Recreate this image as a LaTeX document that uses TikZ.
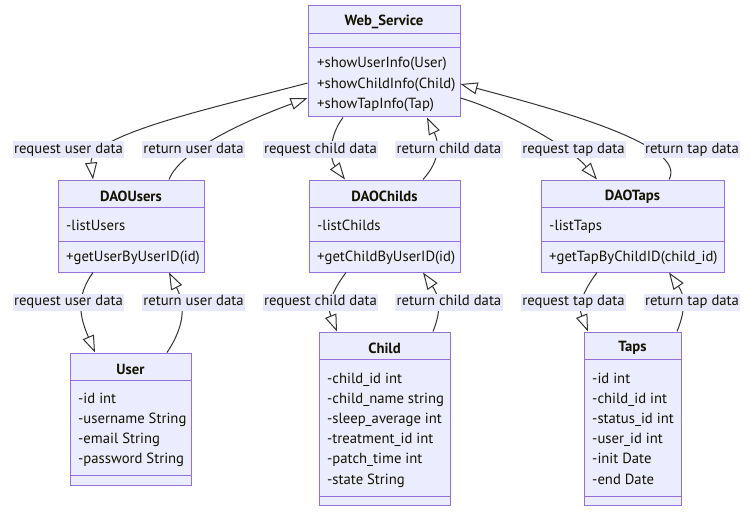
\documentclass[tikz,border=0pt]{standalone}
\usepackage{fontspec}
\setmainfont{PT Sans}
\usetikzlibrary{arrows.meta}

\definecolor{clsfill}{HTML}{ECECFF}
\definecolor{clsline}{HTML}{9370DB}
\definecolor{lblfill}{HTML}{E8E8FC}
\definecolor{edgecol}{HTML}{333333}
\definecolor{txtcol}{HTML}{131300}

\newcommand{\umlfont}{\fontsize{14.7}{17}\selectfont}

\tikzset{
  cls/.style={rectangle, draw=clsline, fill=clsfill, line width=1pt, inner sep=0pt},
  sepline/.style={draw=clsline, line width=1pt},
  ttl/.style={font=\umlfont\bfseries, text=txtcol, inner sep=0pt, yshift=-1.5pt},
  mbr/.style={anchor=west, text=txtcol, inner sep=0pt, text height=10.5pt, text depth=3pt, yshift=-1pt},
  lbl/.style={fill=lblfill, text=txtcol, inner xsep=1.5pt, inner ysep=0pt, text height=12pt, text depth=5pt},
  inh/.style={draw=edgecol, line width=1pt, -{Triangle[open, length=17pt, width=12pt, fill=white]}},
}

\begin{document}
\begin{tikzpicture}[x=1pt, y=-1pt, font=\umlfont]
    \fill[white] (0,0) rectangle (751,513);

    % classes
    \node[cls, minimum width=152, minimum height=111] (ws) at (384,61.5) {};
    \draw[sepline] ([yshift=-28pt]ws.north west) -- ([yshift=-28pt]ws.north east);
    \draw[sepline] ([yshift=-42pt]ws.north west) -- ([yshift=-42pt]ws.north east);
    \node[ttl] (wsT) at (384,20) {Web\_Service};
    \node[mbr] (ws1) at (317,63) {+showUserInfo(User)};
    \node[mbr] (ws2) at (317,83.5) {+showChildInfo(Child)};
    \node[mbr] (ws3) at (317,104) {+showTapInfo(Tap)};

    \node[cls, minimum width=146, minimum height=92] (daou) at (131,226) {};
    \draw[sepline] ([yshift=-28pt]daou.north west) -- ([yshift=-28pt]daou.north east);
    \draw[sepline] ([yshift=-62pt]daou.north west) -- ([yshift=-62pt]daou.north east);
    \node[ttl] (daouT) at (131,195) {DAOUsers};
    \node[mbr] (daou1) at (66,226) {-listUsers};
    \node[mbr] (daou2) at (66,257) {+getUserByUserID(id)};

    \node[cls, minimum width=151, minimum height=92] (daoc) at (384.5,226) {};
    \draw[sepline] ([yshift=-28pt]daoc.north west) -- ([yshift=-28pt]daoc.north east);
    \draw[sepline] ([yshift=-62pt]daoc.north west) -- ([yshift=-62pt]daoc.north east);
    \node[ttl] (daocT) at (384.5,195) {DAOChilds};
    \node[mbr] (daoc1) at (317,226) {-listChilds};
    \node[mbr] (daoc2) at (317,257) {+getChildByUserID(id)};

    \node[cls, minimum width=183, minimum height=92] (daot) at (632.5,226) {};
    \draw[sepline] ([yshift=-28pt]daot.north west) -- ([yshift=-28pt]daot.north east);
    \draw[sepline] ([yshift=-62pt]daot.north west) -- ([yshift=-62pt]daot.north east);
    \node[ttl] (daotT) at (632.5,195) {DAOTaps};
    \node[mbr] (daot1) at (549,226) {-listTaps};
    \node[mbr] (daot2) at (549,257) {+getTapByChildID(child\_id)};

    \node[cls, minimum width=121, minimum height=132] (user) at (130.5,419) {};
    \draw[sepline] ([yshift=-28pt]user.north west) -- ([yshift=-28pt]user.north east);
    \draw[sepline] ([yshift=10pt]user.south west) -- ([yshift=10pt]user.south east);
    \node[ttl] (userT) at (130.5,368) {User};
    \node[mbr] (user1) at (78,399) {-id int};
    \node[mbr] (user2) at (78,419) {-username String};
    \node[mbr] (user3) at (78,439) {-email String};
    \node[mbr] (user4) at (78,459) {-password String};

    \node[cls, minimum width=131, minimum height=173] (child) at (384.5,418.5) {};
    \draw[sepline] ([yshift=-28pt]child.north west) -- ([yshift=-28pt]child.north east);
    \draw[sepline] ([yshift=9pt]child.south west) -- ([yshift=9pt]child.south east);
    \node[ttl] (childT) at (384.5,346.5) {Child};
    \node[mbr] (child1) at (327,379) {-child\_id int};
    \node[mbr] (child2) at (327,399) {-child\_name string};
    \node[mbr] (child3) at (327,419) {-sleep\_average int};
    \node[mbr] (child4) at (327,439) {-treatment\_id int};
    \node[mbr] (child5) at (327,459) {-patch\_time int};
    \node[mbr] (child6) at (327,480) {-state String};

    \node[cls, minimum width=97, minimum height=173] (taps) at (632.5,418.5) {};
    \draw[sepline] ([yshift=-28pt]taps.north west) -- ([yshift=-28pt]taps.north east);
    \draw[sepline] ([yshift=9pt]taps.south west) -- ([yshift=9pt]taps.south east);
    \node[ttl] (tapsT) at (632.5,346.5) {Taps};
    \node[mbr] (taps1) at (592,379) {-id int};
    \node[mbr] (taps2) at (592,399) {-child\_id int};
    \node[mbr] (taps3) at (592,419) {-status\_id int};
    \node[mbr] (taps4) at (592,439) {-user\_id int};
    \node[mbr] (taps5) at (592,459) {-init Date};
    \node[mbr] (taps6) at (592,480) {-end Date};

    % links
    \draw[inh] ([yshift=-21.5pt]ws.west) .. controls +(-90,24) and +(-5,-45) .. ([xshift=-38pt]daou.north);
    \draw[inh] ([xshift=38pt]daou.north) .. controls +(12,-30) and +(-60,22) .. ([yshift=-36.5pt]ws.west);
    \draw[inh] ([xshift=-41pt]ws.south) .. controls +(-15,20) and +(-15,-20) .. ([xshift=-39.5pt]daoc.north);
    \draw[inh] ([xshift=38.5pt]daoc.north) .. controls +(18,-20) and +(12,25) .. ([xshift=43pt]ws.south);
    \draw[inh] ([yshift=-36.5pt]ws.east) .. controls +(50,15) and +(-25,-30) .. ([xshift=-35.5pt]daot.north);
    \draw[inh] ([xshift=36.5pt]daot.north) .. controls +(20,-35) and +(90,24) .. ([yshift=-22.5pt]ws.east);

    \draw[inh] ([xshift=-38pt]daou.south) .. controls +(-18,25) and +(-15,-35) .. ([xshift=-35.5pt]user.north);
    \draw[inh] ([xshift=36.5pt]user.north) .. controls +(20,-30) and +(15,30) .. ([xshift=38pt]daou.south);
    \draw[inh] ([xshift=-38.5pt]daoc.south) .. controls +(-15,20) and +(-10,-25) .. ([xshift=-47.5pt]child.north);
    \draw[inh] ([xshift=48.5pt]child.north) .. controls +(10,-25) and +(15,22) .. ([xshift=38.5pt]daoc.south);
    \draw[inh] ([xshift=-35.5pt]daot.south) .. controls +(-15,20) and +(-10,-25) .. ([xshift=-44.5pt]taps.north);
    \draw[inh] ([xshift=44.5pt]taps.north) .. controls +(10,-25) and +(15,22) .. ([xshift=36.5pt]daot.south);

    % link labels
    \node[lbl] (rqu1) at (68.5,150) {request user data};
    \node[lbl] (rtu1) at (193.5,150) {return user data};
    \node[lbl] (rqc1) at (320.5,150) {request child data};
    \node[lbl] (rtc1) at (449,150) {return child data};
    \node[lbl] (rqt1) at (573.5,150) {request tap data};
    \node[lbl] (rtt1) at (692,150) {return tap data};

    \node[lbl] (rqu2) at (68.5,302) {request user data};
    \node[lbl] (rtu2) at (193.5,302) {return user data};
    \node[lbl] (rqc2) at (320.5,302) {request child data};
    \node[lbl] (rtc2) at (449,302) {return child data};
    \node[lbl] (rqt2) at (573.5,302) {request tap data};
    \node[lbl] (rtt2) at (692,302) {return tap data};
\end{tikzpicture}
\end{document}
